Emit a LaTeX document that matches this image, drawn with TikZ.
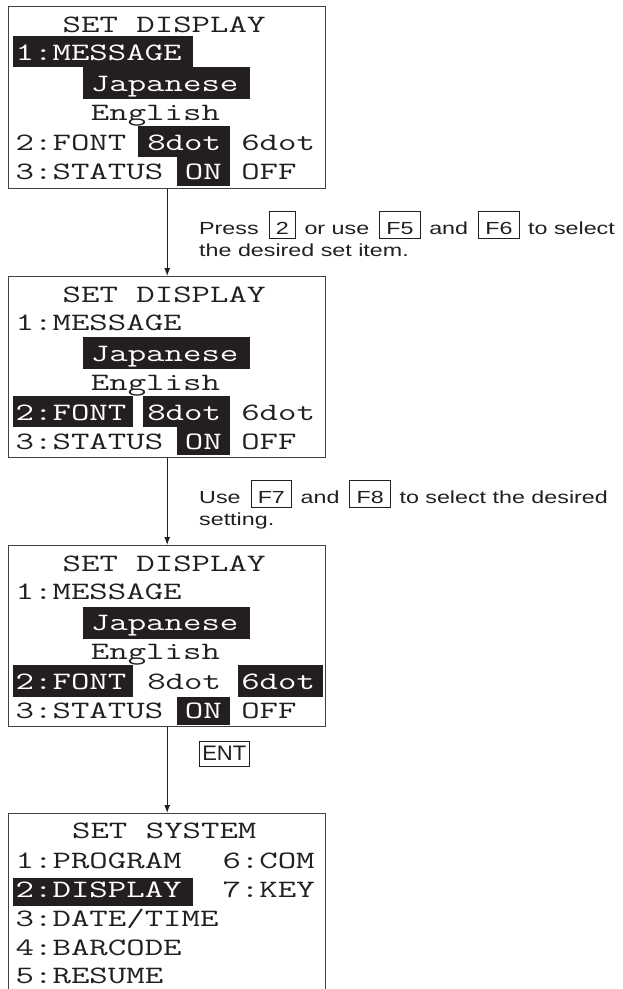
\documentclass[tikz,border=0pt]{standalone}
\usepackage{fontspec}
\usetikzlibrary{arrows.meta}
\newfontfamily\lcdfont[FakeStretch=1.432]{Latin Modern Mono}
\newfontfamily\labfont[FakeStretch=1.33]{Liberation Sans}
\newfontfamily\entfont[FakeStretch=1.05]{Liberation Sans}
\definecolor{ink}{HTML}{231F20}
\newcommand\lcdsize{\lcdfont\fontsize{25}{27}\selectfont}
\newcommand\labsize{\labfont\fontsize{17.5}{22}\selectfont}
\newcommand\kbox[1]{{\setlength\fboxsep{0pt}\setlength\fboxrule{1pt}\fbox{\rule[-4pt]{0pt}{26pt}\hspace{6.2pt}#1\hspace{6.2pt}}}}
\newcommand\kb[1]{\hspace{10pt}\kbox{#1}\hspace{8.5pt}}
\begin{document}
\begin{tikzpicture}[x=1pt,y=-1pt,
  screenbox/.style={draw=ink!85, line width=1.4pt, rectangle, inner sep=0pt, anchor=north west, minimum width=317pt},
  hl/.style={fill=ink},
  lcd/.style={font=\lcdsize, anchor=base west, inner sep=0pt, text=ink},
  lcdw/.style={lcd, text=white},
  lab/.style={font=\labsize, anchor=base west, inner sep=0pt, text=ink},
  arr/.style={draw=ink, line width=1.1pt, -{Latex[length=8pt,width=6pt]}}]
\useasboundingbox (0,0) rectangle (623,989);
\clip (0,0) rectangle (623,989);

% ---------- Screen 1 ----------
\fill[hl] (12.7,36) rectangle (193,67);
\fill[hl] (83,67) rectangle (250,99);
\fill[hl] (138,126) rectangle (230,157);
\fill[hl] (177,157) rectangle (230,186);
\node[screenbox, minimum height=182pt] (s1) at (8,6) {};
\node[lcd]  (s1t)  at (62.5,32.5) {SET DISPLAY};
\node[lcdw] (s1a)  at (15.5,60)   {1:MESSAGE};
\node[lcdw] (s1b)  at (90.7,91)   {Japanese};
\node[lcd]  (s1c)  at (90.7,120)  {English};
\node[lcd]  (s1d)  at (15.5,150)  {2:FONT};
\node[lcdw] (s1e)  at (147.1,150) {8dot};
\node[lcd]  (s1f)  at (241.1,150) {6dot};
\node[lcd]  (s1g)  at (15.5,179)  {3:STATUS};
\node[lcdw] (s1h)  at (184.7,179) {ON};
\node[lcd]  (s1i)  at (241.1,179) {OFF};

% ---------- Screen 2 ----------
\fill[hl] (83,337) rectangle (250,369);
\fill[hl] (12.7,396) rectangle (133,427);
\fill[hl] (143,396) rectangle (230,427);
\fill[hl] (177,427) rectangle (230,455);
\node[screenbox, minimum height=181pt] (s2) at (8,276) {};
\node[lcd]  (s2t)  at (62.5,302.5) {SET DISPLAY};
\node[lcd]  (s2a)  at (15.5,330)   {1:MESSAGE};
\node[lcdw] (s2b)  at (90.7,361)   {Japanese};
\node[lcd]  (s2c)  at (90.7,390)   {English};
\node[lcdw] (s2d)  at (15.5,420)   {2:FONT};
\node[lcdw] (s2e)  at (147.1,420)  {8dot};
\node[lcd]  (s2f)  at (241.1,420)  {6dot};
\node[lcd]  (s2g)  at (15.5,449)   {3:STATUS};
\node[lcdw] (s2h)  at (184.7,449)  {ON};
\node[lcd]  (s2i)  at (241.1,449)  {OFF};

% ---------- Screen 3 ----------
\fill[hl] (83,607) rectangle (250,639);
\fill[hl] (12.7,665) rectangle (133,697);
\fill[hl] (238,665) rectangle (323,697);
\fill[hl] (177,697) rectangle (230,725);
\node[screenbox, minimum height=181pt] (s3) at (8,545) {};
\node[lcd]  (s3t)  at (62.5,571.5) {SET DISPLAY};
\node[lcd]  (s3a)  at (15.5,599)   {1:MESSAGE};
\node[lcdw] (s3b)  at (90.7,630)   {Japanese};
\node[lcd]  (s3c)  at (90.7,659)   {English};
\node[lcdw] (s3d)  at (15.5,689)   {2:FONT};
\node[lcd]  (s3e)  at (147.1,689)  {8dot};
\node[lcdw] (s3f)  at (241.1,689)  {6dot};
\node[lcd]  (s3g)  at (15.5,718)   {3:STATUS};
\node[lcdw] (s3h)  at (184.7,718)  {ON};
\node[lcd]  (s3i)  at (241.1,718)  {OFF};

% ---------- Screen 4 ----------
\fill[hl] (12.7,878) rectangle (193,906);
\node[screenbox, minimum height=220pt] (s4) at (8,813) {};
\node[lcd]  (s4t)  at (71.9,838)    {SET SYSTEM};
\node[lcd]  (s4a)  at (15.5,868.5)  {1:PROGRAM};
\node[lcd]  (s4b)  at (222.3,868.5) {6:COM};
\node[lcdw] (s4c)  at (15.5,897)    {2:DISPLAY};
\node[lcd]  (s4d)  at (222.3,897)   {7:KEY};
\node[lcd]  (s4e)  at (15.5,926.5)  {3:DATE/TIME};
\node[lcd]  (s4f)  at (15.5,955)    {4:BARCODE};
\node[lcd]  (s4g)  at (15.5,983.5)  {5:RESUME};

% ---------- Connectors ----------
\draw[arr] (s1.south) -- (s2.north);
\draw[arr] (s2.south) -- (s3.north);
\draw[arr] (s3.south) -- (s4.north);

% ---------- Instructions ----------
\node[lab] (t1a) at (199,234) {Press\kb{2}or use\kb{F5}and\kb{F6}to select};
\node[lab] (t1b) at (199,256) {the desired set item.};
\node[lab] (t2a) at (199,503) {Use\kb{F7}and\kb{F8}to select the desired};
\node[lab] (t2b) at (199,525) {setting.};
\node[draw=ink, line width=1pt, inner sep=0pt, minimum width=50pt, minimum height=25pt,
      font=\entfont\fontsize{21}{22}\selectfont, text=ink] (ent) at (224.3,753.5) {ENT};
\end{tikzpicture}
\end{document}
